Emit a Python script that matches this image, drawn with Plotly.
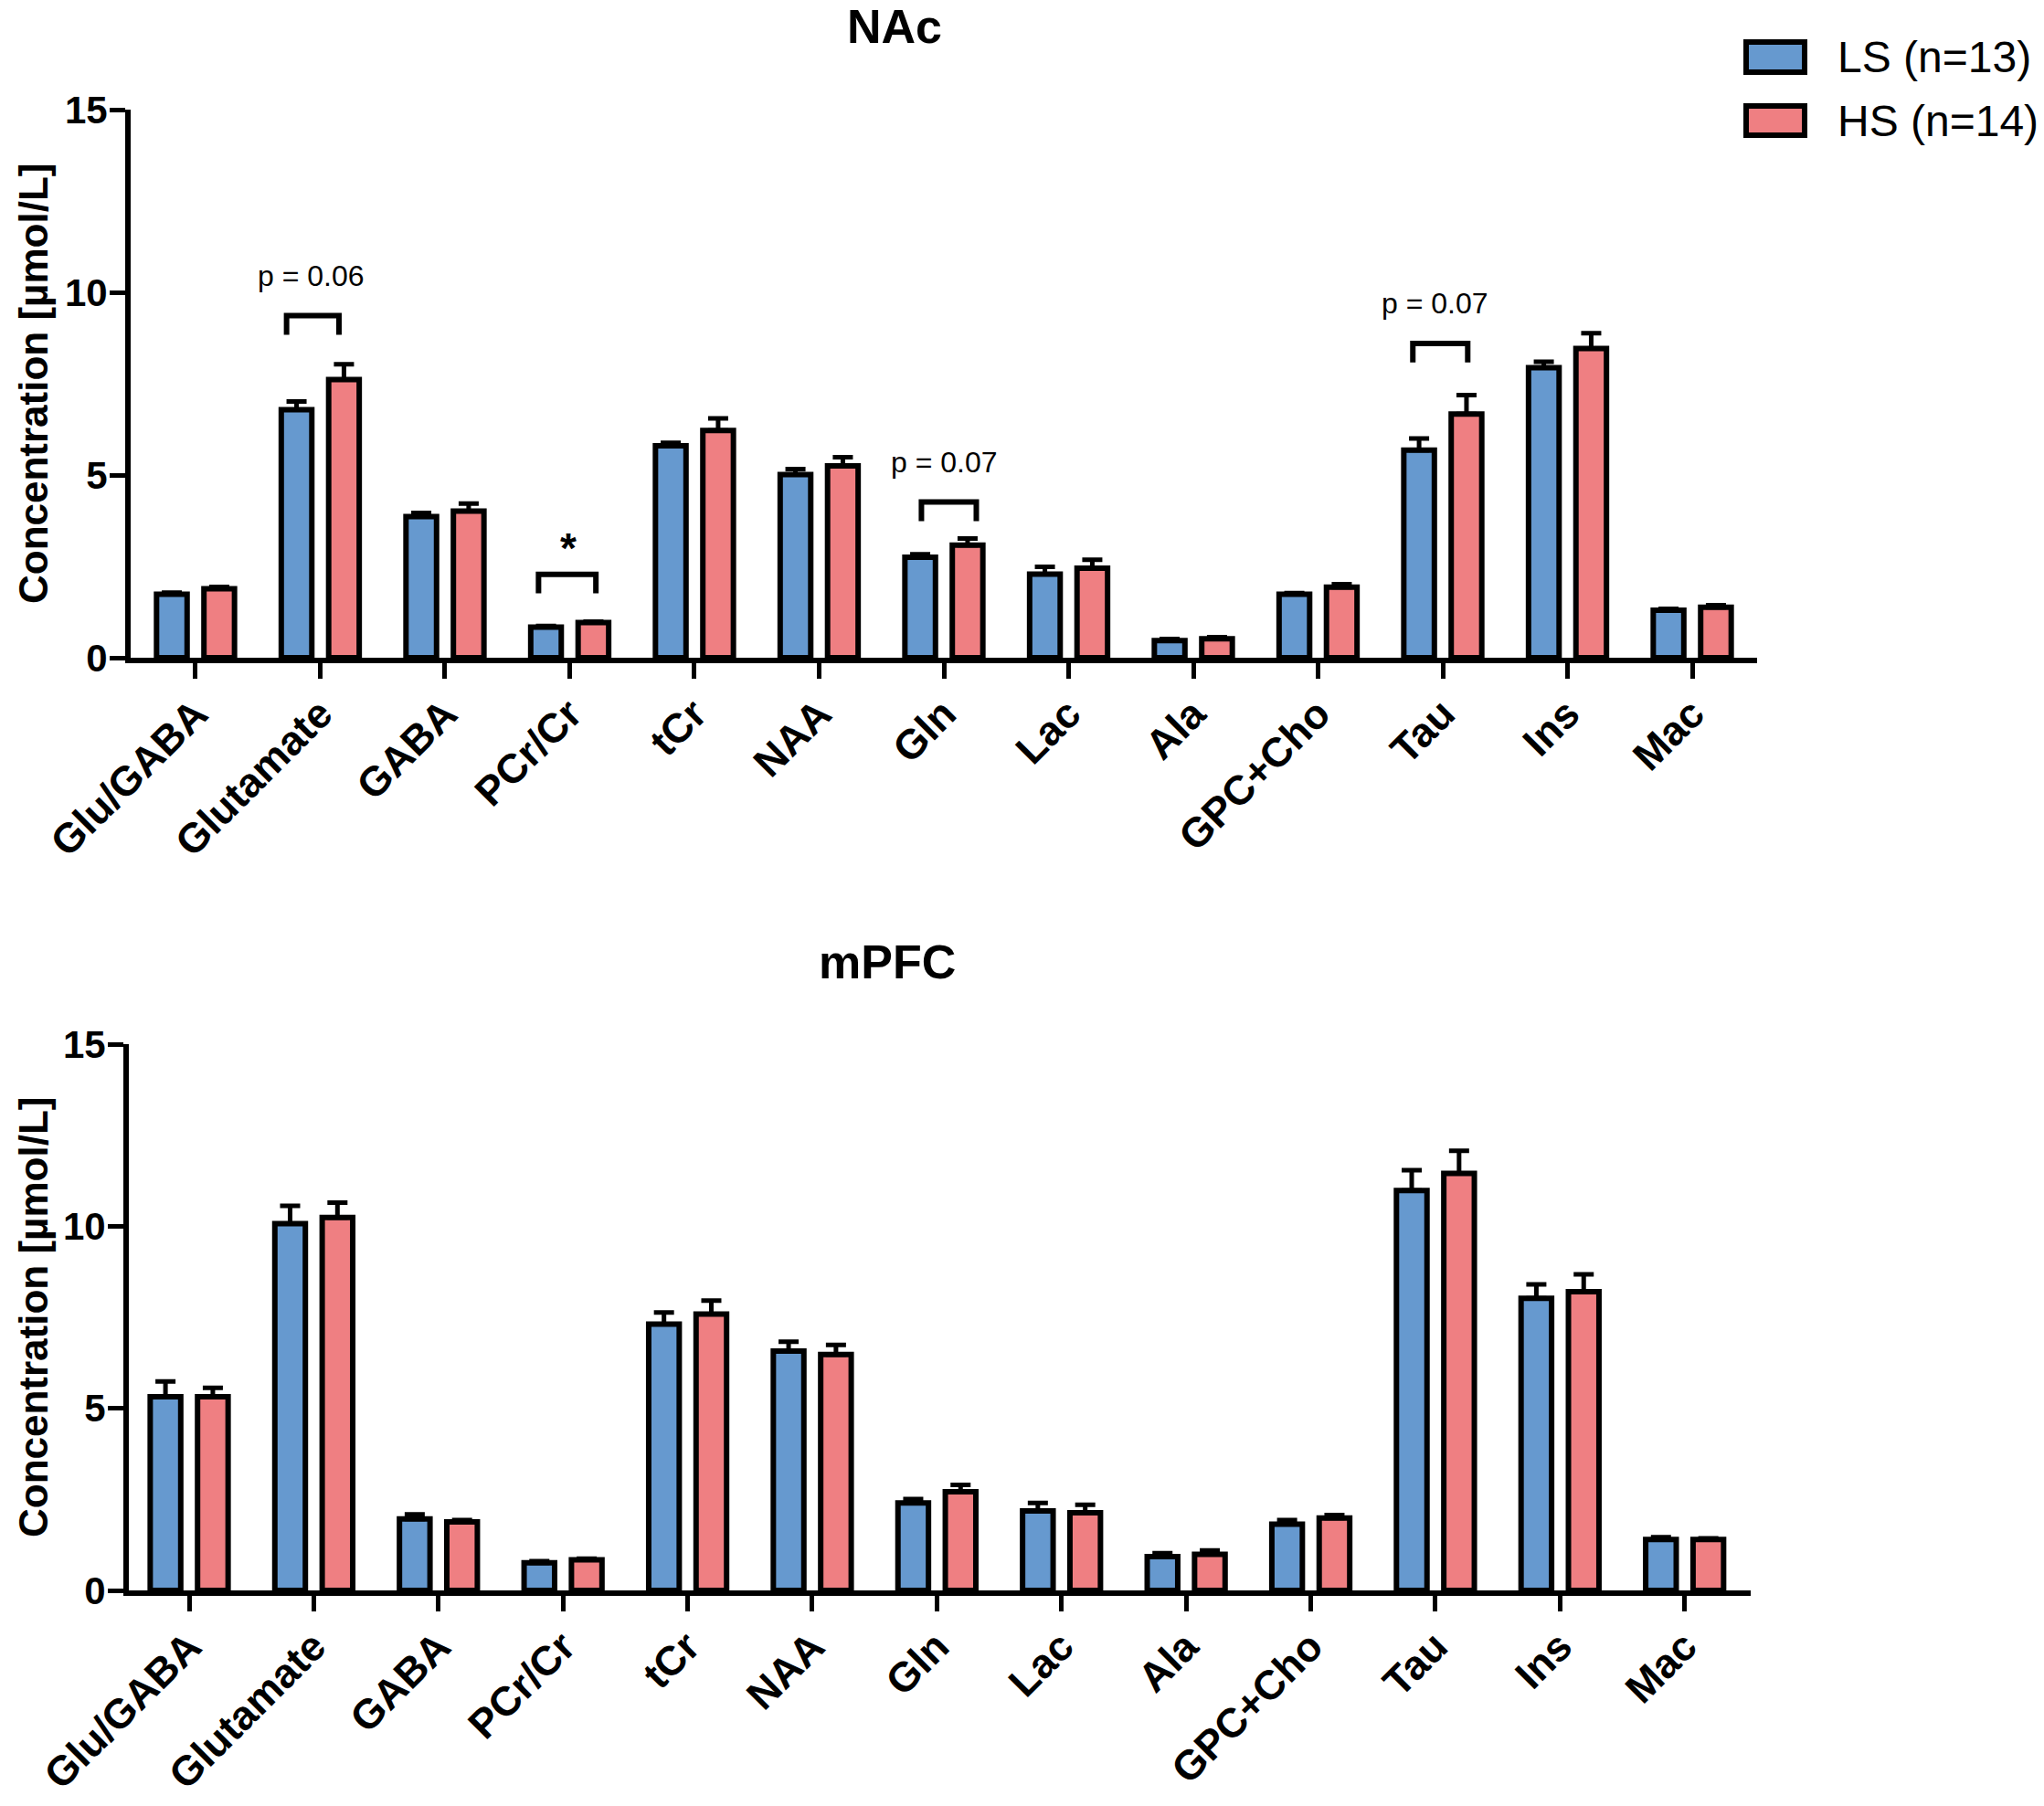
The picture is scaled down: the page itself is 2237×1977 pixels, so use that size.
import plotly.graph_objects as go

categories = ["Glu/GABA", "Glutamate", "GABA", "PCr/Cr", "tCr", "NAA", "Gln",
              "Lac", "Ala", "GPC+Cho", "Tau", "Ins", "Mac"]
series_names = ["LS (n=13)", "HS (n=14)"]

nac_ls = [1.74, 6.79, 3.86, 0.84, 5.80, 5.01, 2.75, 2.29, 0.47, 1.74, 5.68, 7.94, 1.30]
nac_hs = [1.89, 7.61, 4.01, 0.96, 6.22, 5.25, 3.08, 2.45, 0.52, 1.93, 6.67, 8.46, 1.38]
nac_ls_sem = [0.04, 0.22, 0.10, 0.03, 0.08, 0.15, 0.08, 0.20, 0.04, 0.03, 0.32, 0.16, 0.04]
nac_hs_sem = [0.05, 0.42, 0.21, 0.03, 0.33, 0.24, 0.18, 0.23, 0.04, 0.08, 0.52, 0.42, 0.06]

mpfc_ls = [5.32, 10.07, 1.96, 0.76, 7.31, 6.57, 2.40, 2.18, 0.93, 1.82, 10.98, 8.02, 1.40]
mpfc_hs = [5.32, 10.24, 1.88, 0.84, 7.59, 6.48, 2.71, 2.13, 0.99, 1.99, 11.45, 8.20, 1.40]
mpfc_ls_sem = [0.42, 0.49, 0.13, 0.04, 0.32, 0.26, 0.11, 0.22, 0.09, 0.11, 0.56, 0.38, 0.06]
mpfc_hs_sem = [0.24, 0.41, 0.05, 0.03, 0.37, 0.26, 0.19, 0.22, 0.11, 0.08, 0.62, 0.48, 0.03]

# significance annotations on the NAc panel
sig_categories = ["Glutamate", "PCr/Cr", "Gln", "Tau"]
sig_labels = ["p = 0.06", "*", "p = 0.07", "p = 0.07"]
sig_bracket_y = [9.36, 2.28, 4.26, 8.60]

y_ticks = [0, 5, 10, 15]

W, H = 2237, 1977
BLUE = "#6699CF"
PINK = "#EF7F82"
FONT = "Liberation Sans, Arial, Helvetica, sans-serif"

xs = list(range(len(categories)))

fig = go.Figure()


def add_bars(ls, hs, ls_e, hs_e, xa, ya):
    for vals, errs, col, name in [(ls, ls_e, BLUE, series_names[0]),
                                  (hs, hs_e, PINK, series_names[1])]:
        fig.add_trace(go.Bar(
            x=xs, y=vals, name=name, xaxis=xa, yaxis=ya, showlegend=False,
            marker=dict(color=col, line=dict(color="black", width=6)),
            error_y=dict(type="data", array=errs, symmetric=False,
                         arrayminus=[0] * len(errs), color="black",
                         thickness=5, width=11),
        ))


add_bars(nac_ls, nac_hs, nac_ls_sem, nac_hs_sem, "x", "y")
add_bars(mpfc_ls, mpfc_hs, mpfc_ls_sem, mpfc_hs_sem, "x2", "y2")

axis_common = dict(showline=True, linecolor="black", linewidth=6, ticks="outside",
                   ticklen=17, tickwidth=5, tickcolor="black", showgrid=False,
                   zeroline=False, automargin=False)

xcommon = dict(axis_common, tickmode="array", tickvals=xs, ticktext=categories,
               tickangle=-45, ticklabelstandoff=-6,
               tickfont=dict(family=FONT, size=45, color="black", weight="bold"))
ycommon = dict(axis_common, range=[0, 15], tickmode="array", tickvals=y_ticks,
               ticklabelstandoff=-6,
               tickfont=dict(family=FONT, size=42, color="black", weight="bold"))

fig.update_layout(
    width=W, height=H,
    margin=dict(l=0, r=0, t=0, b=0),
    paper_bgcolor="white", plot_bgcolor="white",
    barmode="group", bargap=0.24, bargroupgap=0.355,
    xaxis=dict(xcommon, domain=[143 / W, 1923 / W], range=[-0.52, 12.52], anchor="y"),
    yaxis=dict(ycommon, domain=[1 - 720 / H, 1 - 120 / H], anchor="x"),
    xaxis2=dict(xcommon, domain=[141 / W, 1916 / W], range=[-0.484, 12.53], anchor="y2"),
    yaxis2=dict(ycommon, domain=[1 - 1741 / H, 1 - 1143 / H], anchor="x2"),
)

shapes = []
annotations = []

# brackets
br_off = {"Glutamate": (-0.27, 0.15), "PCr/Cr": (-0.25, 0.21), "Gln": (-0.18, 0.26), "Tau": (-0.24, 0.20)}
txt_off = {"Glutamate": -0.07, "PCr/Cr": -0.01, "Gln": 0.0, "Tau": -0.06}
for cat, lab, yb in zip(sig_categories, sig_labels, sig_bracket_y):
    i = categories.index(cat)
    x0, x1 = i + br_off[cat][0], i + br_off[cat][1]
    leg = 0.52
    path = f"M {x0},{yb - leg} L {x0},{yb} L {x1},{yb} L {x1},{yb - leg}"
    shapes.append(dict(type="path", xref="x", yref="y", path=path,
                       line=dict(color="black", width=6)))
    if lab == "*":
        annotations.append(dict(x=i + txt_off[cat], y=yb + 0.72, xref="x", yref="y",
                                text="*", showarrow=False, yanchor="middle",
                                font=dict(family=FONT, size=46, color="black", weight="bold")))
    else:
        annotations.append(dict(x=i + txt_off[cat], y=yb + 1.1, xref="x", yref="y",
                                text=lab, showarrow=False, yanchor="middle",
                                font=dict(family=FONT, size=32, color="black")))

# panel titles
annotations.append(dict(x=979 / W, y=1 - 29 / H, xref="paper", yref="paper", text="NAc",
                        showarrow=False, xanchor="center", yanchor="middle",
                        font=dict(family=FONT, size=52, color="black", weight="bold")))
annotations.append(dict(x=971 / W, y=1 - 1053 / H, xref="paper", yref="paper", text="mPFC",
                        showarrow=False, xanchor="center", yanchor="middle",
                        font=dict(family=FONT, size=52, color="black", weight="bold")))

# y-axis titles
for yc in [420, 1442]:
    annotations.append(dict(x=36 / W, y=1 - yc / H, xref="paper", yref="paper",
                            text="Concentration [µmol/L]", textangle=-90, showarrow=False,
                            xanchor="center", yanchor="middle",
                            font=dict(family=FONT, size=44, color="black", weight="bold")))

# legend (drawn manually)
for (yt, yb_), col, name in [((46, 79), BLUE, series_names[0]), ((116, 148), PINK, series_names[1])]:
    shapes.append(dict(type="rect", xref="paper", yref="paper",
                       x0=1911 / W, x1=1975 / W, y0=1 - yb_ / H, y1=1 - yt / H,
                       fillcolor=col, line=dict(color="black", width=6)))
    annotations.append(dict(x=2009 / W, y=1 - ((yt + yb_) / 2) / H, xref="paper", yref="paper",
                            text=name, showarrow=False, xanchor="left", yanchor="middle",
                            font=dict(family=FONT, size=48, color="black")))

fig.update_layout(shapes=shapes, annotations=annotations)

fig.write_html("out.html", config={"displayModeBar": False},
               post_script="document.body.style.margin='0';document.body.style.overflow='hidden';")
